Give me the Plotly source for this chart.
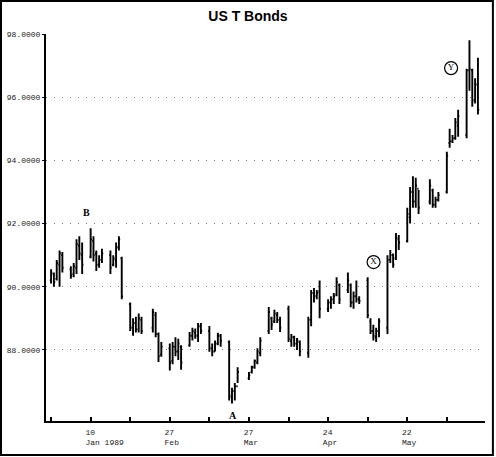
import pandas as pd
import plotly.graph_objects as go

# ---- data -------------------------------------------------------------
holidays = ["1989-02-20", "1989-03-24", "1989-05-29"]
all_days = pd.bdate_range("1989-01-16", "1989-06-16")
dates = [d.strftime("%Y-%m-%d") for d in all_days if d.strftime("%Y-%m-%d") not in holidays]

highs = [
    90.55, 90.45, 90.85, 91.15, 91.10,
    90.65, 90.75, 91.50, 91.60, 91.40,
    91.85, 91.60, 91.15, 91.00, 91.20,
    91.15, 91.00, 91.40, 91.60, 90.95,
    89.50, 89.00, 89.05, 89.15, 89.05,
    89.30, 89.20, 88.55, 88.25,
    88.20, 88.25, 88.40, 88.35, 88.15,
    88.57, 88.70, 88.68, 88.85, 88.85,
    88.76, 88.20, 88.30, 88.54, 88.50,
    88.30, 86.80, 86.95, 87.45,
    87.30, 87.50, 87.70, 88.05, 88.40,
    89.36, 89.05, 89.27, 89.20, 89.05,
    89.40, 88.50, 88.45, 88.38, 88.30,
    89.05, 89.90, 89.96, 89.90, 90.20,
    89.60, 89.70, 89.80, 90.30, 90.10,
    90.45, 90.10, 89.85, 90.20, 89.70,
    90.30, 89.00, 88.80, 88.70, 89.00,
    91.00, 91.16, 91.05, 91.70, 91.64,
    92.50, 93.16, 93.50, 93.45, 93.06,
    93.40, 93.10, 92.85, 93.00,
    94.27, 95.00, 94.80, 95.34, 95.60,
    96.90, 97.80, 96.90, 96.60, 97.25,
]
lows = [
    90.10, 90.00, 90.20, 90.00, 90.45,
    90.25, 90.30, 90.40, 90.85, 90.40,
    90.90, 90.80, 90.50, 90.60, 90.75,
    90.40, 90.65, 90.60, 91.15, 89.60,
    88.60, 88.45, 88.55, 88.55, 88.50,
    88.55, 88.40, 87.62, 87.78,
    87.35, 87.55, 87.80, 87.68, 87.37,
    88.10, 88.30, 88.35, 88.25, 88.50,
    87.94, 87.80, 87.95, 88.15, 88.10,
    86.40, 86.30, 86.40, 86.95,
    87.05, 87.25, 87.40, 87.55, 87.80,
    88.50, 88.63, 88.85, 88.85, 88.57,
    88.25, 88.10, 88.10, 88.00, 87.80,
    87.75, 88.75, 89.50, 89.60, 89.00,
    89.20, 89.30, 89.45, 89.70, 89.45,
    89.80, 89.35, 89.30, 89.50, 89.45,
    89.00, 88.50, 88.30, 88.25, 88.40,
    88.50, 90.75, 90.60, 90.85, 91.16,
    91.40, 92.00, 92.50, 92.50, 92.30,
    92.60, 92.50, 92.50, 92.70,
    92.95, 94.40, 94.55, 94.65, 94.75,
    94.70, 96.20, 95.70, 95.80, 95.45,
]
opens = [
    90.20, 90.40, 90.25, 90.70, 91.00,
    90.55, 90.40, 90.60, 91.30, 91.00,
    90.95, 91.45, 91.05, 90.70, 90.85,
    91.00, 90.70, 90.85, 91.25, 90.90,
    89.45, 88.70, 88.85, 88.65, 88.95,
    88.70, 89.10, 88.50, 87.85,
    88.05, 87.65, 88.10, 87.95, 88.10,
    88.15, 88.45, 88.55, 88.45, 88.75,
    88.60, 88.05, 87.95, 88.20, 88.45,
    88.25, 86.50, 86.70, 86.85,
    87.10, 87.30, 87.45, 87.60, 87.90,
    88.60, 89.00, 88.90, 89.10, 88.95,
    89.30, 88.30, 88.40, 88.20, 88.25,
    87.90, 88.95, 89.80, 89.70, 89.85,
    89.30, 89.50, 89.60, 89.75, 90.05,
    89.90, 90.05, 89.50, 89.70, 89.60,
    90.20, 88.90, 88.60, 88.40, 88.60,
    88.70, 90.85, 91.00, 90.90, 91.50,
    91.45, 92.20, 93.00, 92.70, 93.10,
    92.70, 93.05, 92.60, 92.75,
    93.00, 94.55, 94.60, 94.70, 95.10,
    94.80, 96.85, 96.85, 95.90, 96.40,
]
closes = [
    90.45, 90.15, 90.75, 91.05, 90.60,
    90.35, 90.65, 91.35, 91.05, 90.70,
    91.50, 91.00, 90.70, 90.85, 91.05,
    90.60, 90.90, 91.25, 91.50, 89.70,
    88.70, 88.85, 88.65, 89.00, 88.60,
    89.20, 88.50, 87.80, 88.10,
    87.60, 88.10, 87.95, 88.20, 87.60,
    88.45, 88.60, 88.45, 88.75, 88.60,
    88.05, 87.95, 88.20, 88.45, 88.30,
    86.55, 86.70, 86.85, 87.30,
    87.20, 87.45, 87.65, 87.95, 88.30,
    89.20, 88.80, 89.15, 88.95, 88.70,
    88.35, 88.40, 88.20, 88.30, 87.95,
    88.95, 89.80, 89.70, 89.80, 89.30,
    89.50, 89.60, 89.70, 90.15, 89.60,
    90.20, 89.50, 89.70, 89.60, 89.55,
    89.10, 88.60, 88.45, 88.60, 88.90,
    90.85, 91.00, 90.70, 91.55, 91.40,
    92.30, 93.00, 92.70, 93.20, 92.50,
    93.20, 92.60, 92.75, 92.90,
    94.15, 94.60, 94.70, 95.20, 95.40,
    96.85, 96.90, 95.90, 96.40, 95.60,
]

tick_dates = ["1989-01-16", "1989-01-30", "1989-02-13", "1989-02-27", "1989-03-13",
              "1989-03-27", "1989-04-10", "1989-04-24", "1989-05-08", "1989-05-22",
              "1989-06-05"]
tick_text = ["", "10<br>Jan 1989", "", "27<br>Feb", "", "27<br>Mar", "", "24<br>Apr",
             "", "22<br>May", ""]
y_ticks = [88, 90, 92, 94, 96, 98]

# wave labels
plain_labels = ["B", "A"]
plain_dates = ["1989-01-28 12:00", "1989-03-21 07:00"]
plain_prices = [92.34, 85.94]
circled_labels = ["X", "Y"]
circled_dates = ["1989-05-10 02:00", "1989-06-06 12:00"]
circled_prices = [90.78, 96.92]

assert len(dates) == len(highs) == len(lows) == len(opens) == len(closes)

# ---- figure -----------------------------------------------------------
fig = go.Figure()
fig.add_trace(go.Ohlc(
    x=dates, open=opens, high=highs, low=lows, close=closes,
    increasing=dict(line=dict(color="black", width=1.9)),
    decreasing=dict(line=dict(color="black", width=1.9)),
    tickwidth=0.45, showlegend=False, hoverinfo="skip",
))
fig.add_trace(go.Scatter(
    x=circled_dates, y=circled_prices, mode="markers+text",
    text=circled_labels, textposition="middle center",
    textfont=dict(family="Liberation Serif", size=9, color="black"),
    marker=dict(symbol="circle-open", size=13, color="black", line=dict(width=1.2)),
    showlegend=False, hoverinfo="skip", cliponaxis=False,
))
for t, d, p in zip(plain_labels, plain_dates, plain_prices):
    fig.add_annotation(x=d, y=p, text="<b>%s</b>" % t, showarrow=False,
                       font=dict(family="Liberation Serif", size=10, color="black"))

fig.update_layout(
    width=496, height=457,
    margin=dict(l=46, r=11, t=34, b=36, autoexpand=False),
    paper_bgcolor="white", plot_bgcolor="white",
    title=dict(text="<b>US T Bonds</b>", x=0.5, xanchor="center", y=0.965, yanchor="middle",
               font=dict(family="Liberation Sans", size=14, color="black")),
    showlegend=False,
    font=dict(family="Liberation Mono", size=8, color="#222"),
)
fig.update_xaxes(
    type="date", range=["1989-01-14 05:00", "1989-06-18 12:00"],
    rangeslider=dict(visible=False), automargin=False,
    tickmode="array", tickvals=tick_dates, ticktext=tick_text,
    ticks="inside", ticklen=4, tickwidth=1.5, tickcolor="black",
    ticklabelposition="outside right", ticklabelshift=-7, ticklabelstandoff=2,
    showline=True, linecolor="black", linewidth=2,
    showgrid=False, zeroline=False,
    tickfont=dict(family="Liberation Mono", size=8, color="#222"),
)
fig.update_yaxes(
    range=[85.75, 98.0], automargin=False,
    tickmode="array", tickvals=y_ticks, tickformat=".4f",
    ticks="outside", ticklen=2, tickcolor="black",
    showline=True, linecolor="black", linewidth=2,
    showgrid=True, gridcolor="#777", gridwidth=1, griddash="1px,7px",
    zeroline=False,
    tickfont=dict(family="Liberation Mono", size=8, color="#222"),
)
# outer frame of the picture
fig.add_shape(type="rect", xref="paper", yref="paper",
              x0=-0.1025, x1=1.018, y0=-0.0879, y1=1.085,
              line=dict(color="black", width=2), layer="above")

fig.write_html("out.html", config={"displayModeBar": False},
               post_script="document.body.style.margin='0';document.body.style.overflow='hidden';")
